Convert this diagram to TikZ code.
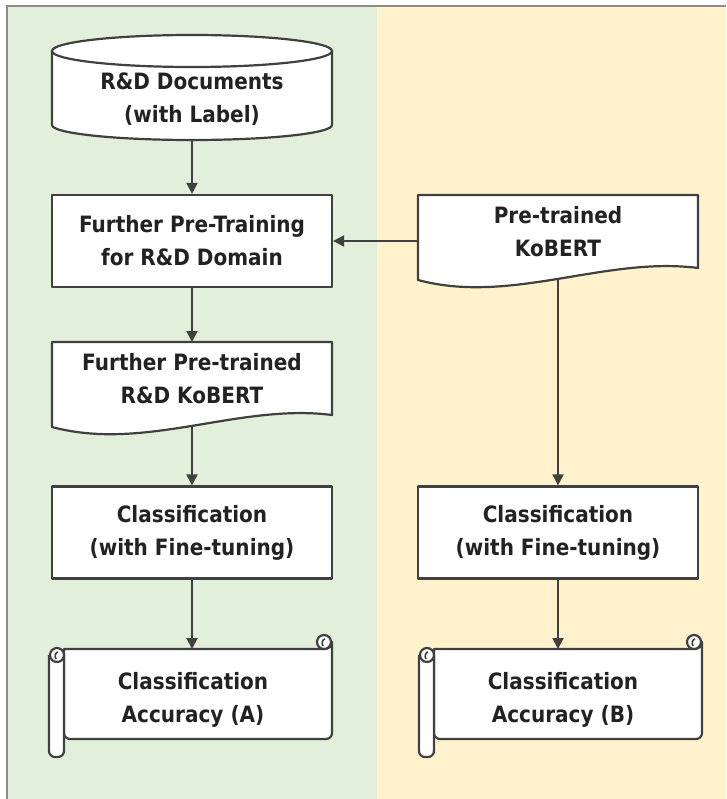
\documentclass[tikz,border=0pt]{standalone}
\usepackage{fontspec}
\setmainfont{DejaVu Sans}
\newfontfamily\lblfont{DejaVu Sans}[FakeStretch=0.89]
\usetikzlibrary{arrows.meta}

\definecolor{panelgreen}{HTML}{E2EFDA}
\definecolor{panelyellow}{HTML}{FFF2CC}
\definecolor{framegray}{HTML}{8C8C8C}
\definecolor{linec}{HTML}{404040}
\definecolor{textc}{HTML}{222222}

\tikzset{
  shp/.style={draw=linec, fill=white, line width=2.2pt, line join=round},
  lbl/.style={align=center, text=textc, font=\lblfont\bfseries\fontsize{22.5}{33}\selectfont},
  procbox/.style={shp, lbl, minimum width=280pt, minimum height=92pt, inner sep=0pt},
  conn/.style={draw=linec, line width=2pt, -{Triangle[length=11pt,width=11pt]}},
}

% scroll shape: #1 left x, #2 right x, #3 top y, #4 bottom y
\newcommand\scrollpath[4]{%
  % main sheet
  \filldraw[shp] (#1+15,#3) -- (#2-8,#3) .. controls (#2-3,#3) and (#2,#3-3) .. (#2,#3-7)
    [rounded corners=6pt] -- (#2,#4) -- (#1+15,#4) [sharp corners] -- cycle;
  % right curl
  \filldraw[shp] (#2-8,#3-7) circle[radius=7pt];
  \draw[linec, line width=1.6pt] (#2-9,#3-3) .. controls (#2-11,#3-6) and (#2-9,#3-10) .. (#2-7,#3-10);
  % left rolled strip
  \filldraw[shp] [rounded corners=6pt] (#1+15,#3+6) -- (#1+15,#4+18) -- (#1,#4+18) [sharp corners] -- (#1,#3+6);
  % left curl
  \filldraw[shp] (#1+8,#3+6) circle[radius=7pt];
  \draw[linec, line width=1.6pt] (#1+7,#3+10) .. controls (#1+5,#3+7) and (#1+7,#3+3) .. (#1+9,#3+3);
}

\begin{document}
\begin{tikzpicture}[x=1pt, y=-1pt]
\useasboundingbox (0,0) rectangle (726,799);

% two background panels and frame
\fill[panelgreen] (8,7) rectangle (377,799);
\fill[panelyellow] (377,7) rectangle (726,799);
\draw[framegray, line width=2pt] (7,799) -- (7,6) -- (726,6);

% ---- left column ----
% database cylinder
\filldraw[shp] (52,51) -- (52,125)
  .. controls (52,133.3) and (114.7,140) .. (192,140)
  .. controls (269.3,140) and (332,133.3) .. (332,125) -- (332,51) -- cycle;
\filldraw[shp] (192,51) ellipse[x radius=140pt, y radius=16pt];
\node[lbl] (docs) at (192,99) {R\&D Documents\\(with Label)};
\coordinate (docsb) at (192,140);

\node[procbox] (fpt) at (192,241) {Further Pre-Training\\for R\&D Domain};

% further pre-trained model (document shape)
\filldraw[shp] (52,342) -- (332,342) -- (332,415)
  .. controls (239,403) and (145,452) .. (52,427) -- cycle;
\node[lbl] (fptm) at (192,379) {Further Pre-trained\\R\&D KoBERT};
\coordinate (fptmt) at (192,342);
\coordinate (fptmb) at (192,426);

\node[procbox] (clsa) at (192,532.5) {Classification\\(with Fine-tuning)};

\scrollpath{49}{332}{649}{739}
\node[lbl] (acca) at (193,699.5) {Classification\\Accuracy (A)};
\coordinate (accat) at (192,649);

% ---- right column ----
\filldraw[shp] (418,195) -- (698,195) -- (698,268)
  .. controls (605,256) and (511,305) .. (418,280) -- cycle;
\node[lbl] (kob) at (558,232) {Pre-trained\\KoBERT};
\coordinate (kobl) at (418,241);
\coordinate (kobb) at (558,279);

\node[procbox] (clsb) at (558,532.5) {Classification\\(with Fine-tuning)};

\scrollpath{419}{702}{649}{739}
\node[lbl] (accb) at (563,699.5) {Classification\\Accuracy (B)};
\coordinate (accbt) at (560,649);

% ---- connectors ----
\draw[conn] (docsb) -- (fpt.north);
\draw[conn] (kobl) -- (fpt.east);
\draw[conn] (fpt.south) -- (fptmt);
\draw[conn] (fptmb) -- (clsa.north);
\draw[conn] (clsa.south) -- (accat);
\draw[conn] (kobb) -- (clsb.north);
\draw[conn] (clsb.south) -- (clsb.south |- accbt);
\end{tikzpicture}
\end{document}
